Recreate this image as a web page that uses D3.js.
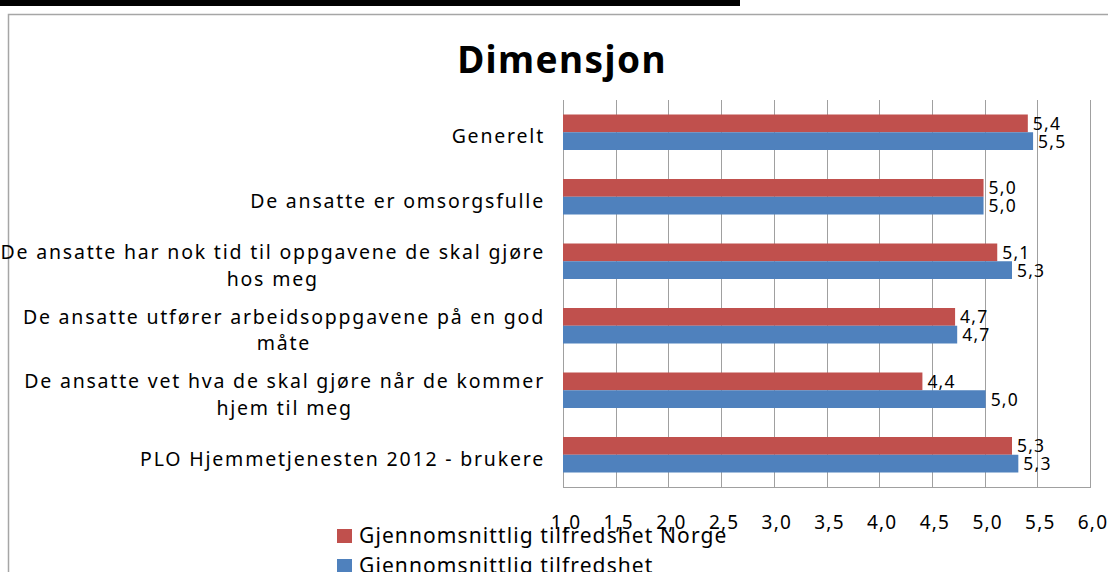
<!DOCTYPE html>
<html><head><meta charset="utf-8">
<script src="https://cdn.jsdelivr.net/npm/d3@7/dist/d3.min.js"></script>
<style>
html,body{margin:0;padding:0;background:#fff;}
svg{display:block;}
text{font-family:"Noto Sans","Open Sans",sans-serif;fill:#000;}
</style></head>
<body>
<svg id="chart" width="1108" height="572"></svg>
<script>
// ---- data ----
const categories = [
  "Generelt",
  "De ansatte er omsorgsfulle",
  "De ansatte har nok tid til oppgavene de skal gjøre hos meg",
  "De ansatte utfører arbeidsoppgavene på en god måte",
  "De ansatte vet hva de skal gjøre når de kommer hjem til meg",
  "PLO Hjemmetjenesten 2012 - brukere"
];
const categoryLines = [
  ["Generelt"],
  ["De ansatte er omsorgsfulle"],
  ["De ansatte har nok tid til oppgavene de skal gjøre", "hos meg"],
  ["De ansatte utfører arbeidsoppgavene på en god", "måte"],
  ["De ansatte vet hva de skal gjøre når de kommer", "hjem til meg"],
  ["PLO Hjemmetjenesten 2012 - brukere"]
];
const seriesNames = ["Gjennomsnittlig tilfredshet Norge", "Gjennomsnittlig tilfredshet"];
const norgeValues = [5.41, 4.99, 5.12, 4.72, 4.41, 5.26];
const snittValues = [5.46, 4.99, 5.26, 4.74, 5.01, 5.32];
const tickValues = [1.0, 1.5, 2.0, 2.5, 3.0, 3.5, 4.0, 4.5, 5.0, 5.5, 6.0];
const title = "Dimensjon";
const colors = ["#C0504D", "#4F81BD"];

// ---- drawing ----
const svg = d3.select("#chart");
const fmt = v => d3.format(".1f")(v).replace(".", ",");

// top black rule (page fragment)
svg.append("rect").attr("x", 0).attr("y", 0).attr("width", 740).attr("height", 6).attr("fill", "#000");

// chart frame
svg.append("path").attr("d", "M8.5,572 V14.5 H1108")
  .attr("fill", "none").attr("stroke", "#A6A6A6").attr("stroke-width", 1.5);

// title
svg.append("text").attr("x", 562).attr("y", 73).attr("text-anchor", "middle")
  .style("font-size", "37px").style("font-weight", "bold").style("letter-spacing", "1.4px").text(title);

const x = d3.scaleLinear().domain([1, 6]).range([563, 1090]);
const y = d3.scaleBand().domain(categories).range([100, 487]).paddingInner(0).paddingOuter(0);
const groupW = 35.5;
const sub = d3.scaleBand().domain([0, 1]).range([(y.step() - groupW) / 2, (y.step() + groupW) / 2]);

// gridlines
const g = svg.append("g");
g.selectAll("line.grid").data(tickValues).join("line")
  .attr("x1", d => Math.round(x(d)) + 0.5).attr("x2", d => Math.round(x(d)) + 0.5)
  .attr("y1", 100).attr("y2", 487)
  .attr("stroke", "#A0A0A0").attr("stroke-width", 1);
// bottom axis line
g.append("line").attr("x1", x(1)).attr("x2", x(6) + 1).attr("y1", 487.5).attr("y2", 487.5)
  .attr("stroke", "#A0A0A0").attr("stroke-width", 1);

// bars
const series = [norgeValues, snittValues];
series.forEach((vals, si) => {
  svg.append("g").selectAll("rect").data(vals).join("rect")
    .attr("x", x(1))
    .attr("y", (d, i) => y(categories[i]) + sub(si))
    .attr("width", d => x(d) - x(1))
    .attr("height", sub.bandwidth())
    .attr("fill", colors[si]);
  svg.append("g").selectAll("text").data(vals).join("text")
    .attr("x", d => x(d) + 5)
    .attr("y", (d, i) => y(categories[i]) + sub(si) + sub.bandwidth() / 2 + 6.5)
    .style("font-size", "17.5px").style("letter-spacing", "1.2px")
    .text(d => fmt(d));
});

// x tick labels
svg.append("g").selectAll("text").data(tickValues).join("text")
  .attr("x", d => x(d) + 3).attr("y", 529).attr("text-anchor", "middle")
  .style("font-size", "19px").style("letter-spacing", "1.2px")
  .text(d => fmt(d));

// category labels (multi-line, block right aligned, lines centered)
const labelRight = 545, lineH = 26.5;
categoryLines.forEach((lines, i) => {
  const cy = y(categories[i]) + y.step() / 2 + 4;
  const t = svg.append("g");
  const texts = lines.map((ln, li) => t.append("text")
    .attr("y", cy + (li - (lines.length - 1) / 2) * lineH + 7)
    .style("font-size", "19.5px").style("letter-spacing", "1.8px")
    .attr("text-anchor", "middle").text(ln));
  const w = d3.max(texts, tx => tx.node().getComputedTextLength());
  texts.forEach(tx => tx.attr("x", labelRight - w / 2));
});

// legend
const leg = svg.append("g");
seriesNames.forEach((name, i) => {
  const ly = 536 + i * 30;
  leg.append("rect").attr("x", 337).attr("y", ly - 7).attr("width", 15).attr("height", 14).attr("fill", colors[i]);
  leg.append("text").attr("x", 359).attr("y", ly + 7)
    .style("font-size", "21px").style("letter-spacing", "1.1px").text(name);
});
</script>
</body></html>
